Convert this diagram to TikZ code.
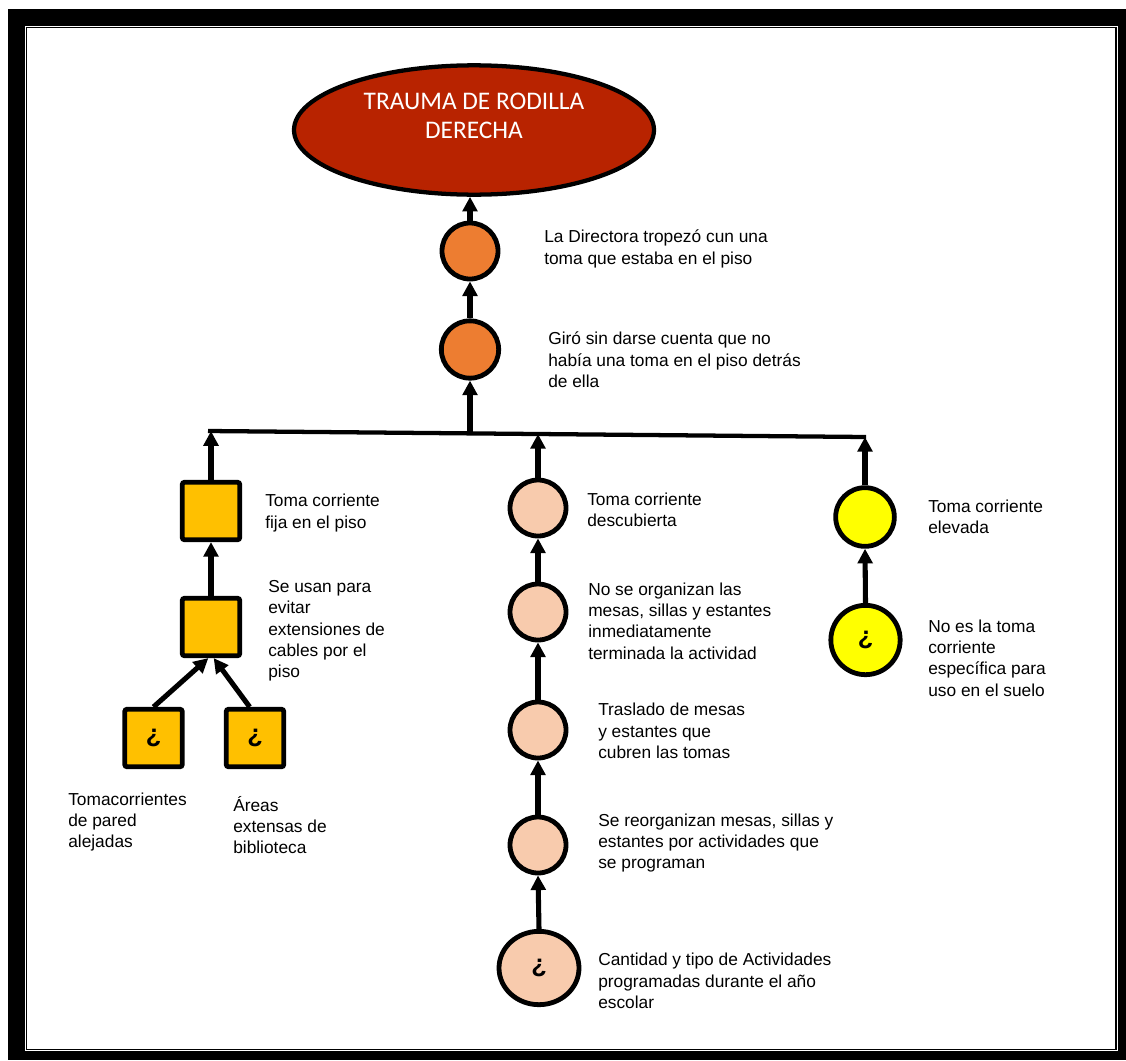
\documentclass[tikz,border=0pt]{standalone}
\usepackage{fontspec}
\setmainfont{Liberation Sans}
\newfontfamily\calibrifont{Carlito}
\usepackage{tikz}
\usetikzlibrary{shapes.geometric,arrows.meta,positioning,calc}
\definecolor{rootred}{HTML}{B82300}
\definecolor{causeorange}{HTML}{ED7D31}
\definecolor{boxgold}{HTML}{FFC000}
\definecolor{peach}{HTML}{F8CBAD}
\definecolor{lemon}{HTML}{FFFF00}
\newcommand{\qmark}{\bfseries\fontsize{19}{20}\selectfont ¿}

\begin{document}
\begin{tikzpicture}[
    x=0.75pt, y=-0.75pt,
    every node/.style={font=\fontsize{13}{16}\selectfont},
    root/.style={ellipse, draw, line width=3.2pt, fill=rootred, minimum width=270pt, minimum height=97pt, inner sep=0pt},
    roottext/.style={text=white, align=center, inner sep=0pt, font=\calibrifont\fontsize{19}{22}\selectfont},
    cause/.style={circle, draw, line width=3.6pt, fill=#1, minimum size=42pt, inner sep=0pt},
    box/.style={rectangle, draw, line width=3.6pt, fill=boxgold, minimum size=43pt, inner sep=0pt, rounded corners=1.5pt},
    desc/.style={anchor=west, align=left, inner sep=0pt},
    arrow/.style={-{Triangle[length=11pt,width=11pt]}, line width=3.8pt},
    bar/.style={line width=3.2pt}
]
\useasboundingbox (0,0) rectangle (1126,1060);

% Frame
\fill[black] (8,9) rectangle (1126,1060);
\fill[white] (25,25.5) rectangle (1118,1051);
\draw[line width=1pt] (26.8,27.2) rectangle (1116,1049.3);

% Problem
\node[root] (top) at (474,130) {};
\node[roottext] (toptext) at (474,116) {TRAUMA DE RODILLA\\DERECHA};

% Main chain
\node[cause=causeorange] (c1) at (470,251) {};
\node[cause=causeorange, minimum size=43pt] (c2) at (470,349.5) {};
\node[desc] (d1) at (544,249) {La Directora tropezó cun una\\toma que estaba en el piso};
\node[desc] (d2) at (548,360) {Giró sin darse cuenta que no\\había una toma en el piso detrás\\de ella};

\draw[arrow] (c1.north) -- (c1.north |- top.south);
\draw[arrow] (c2.north) -- (c1.south);

% Branch bar
\coordinate (barL) at (208,431);
\coordinate (barR) at (866,437);
\coordinate (jC) at (470,433.4);
\coordinate (jL) at (212,431.1);
\coordinate (jM) at (538,434);
\coordinate (jR) at (865,437);
\draw[bar] (barL) -- (barR);
\draw[arrow] (jC) -- (c2.south);

% Left branch
\node[box] (sq1) at (211,511) {};
\node[box] (sq2) at (211,627) {};
\node[box] (sq3) at (153.5,738) {\qmark};
\node[box] (sq4) at (255,738) {\qmark};
\node[desc] (d3) at (265,513) {Toma corriente\\fija en el piso};
\node[desc] (d4) at (268,631) {Se usan para\\evitar\\extensiones de\\cables por el\\piso};
\node[desc] (d5) at (68,822) {Tomacorrientes\\de pared\\alejadas};
\node[desc] (d6) at (233,825) {Áreas\\extensas de\\biblioteca};

\draw[arrow] (sq1.north) -- (sq1.north |- jL);
\draw[arrow] (sq2.north) -- (sq1.south);
\draw[arrow] (sq3.north) -- ([xshift=-2pt]sq2.south);
\draw[arrow] ([xshift=-4pt]sq4.north) -- ([xshift=2pt]sq2.south);

% Middle branch
\foreach \n/\y in {c3/508,c4/612,c5/730,c6/845}
    \node[cause=peach] (\n) at (538,\y) {};
\node[cause=peach, ellipse, minimum width=60pt, minimum height=55pt] (c7) at (539,968) {\qmark};
\node[desc] (d7) at (587,510) {Toma corriente\\descubierta};
\node[desc] (d8) at (588,621) {No se organizan las\\mesas, sillas y estantes\\inmediatamente\\terminada la actividad};
\node[desc] (d9) at (598,731) {Traslado de mesas\\y estantes que\\cubren las tomas};
\node[desc] (d10) at (598,843) {Se reorganizan mesas, sillas y\\estantes por actividades que\\se programan};
\node[desc] (d11) at (598,981) {Cantidad y tipo de Actividades\\programadas durante el año\\escolar};

\draw[arrow] (c3.north) -- (c3.north |- jM);
\foreach \a/\b in {c7/c6,c6/c5,c5/c4,c4/c3}
    \draw[arrow] (\a.north) -- (\b.south);

% Right branch
\node[cause=lemon, minimum size=44pt] (c8) at (865,517) {};
\node[cause=lemon, minimum size=52pt] (c9) at (865.5,640) {\qmark};
\node[desc] (d12) at (928,517) {Toma corriente\\elevada};
\node[desc] (d13) at (928,658) {No es la toma\\corriente\\específica para\\uso en el suelo};

\draw[arrow] (c8.north) -- (c8.north |- jR);
\draw[arrow] (c9.north) -- (c8.south);

\end{tikzpicture}
\end{document}
